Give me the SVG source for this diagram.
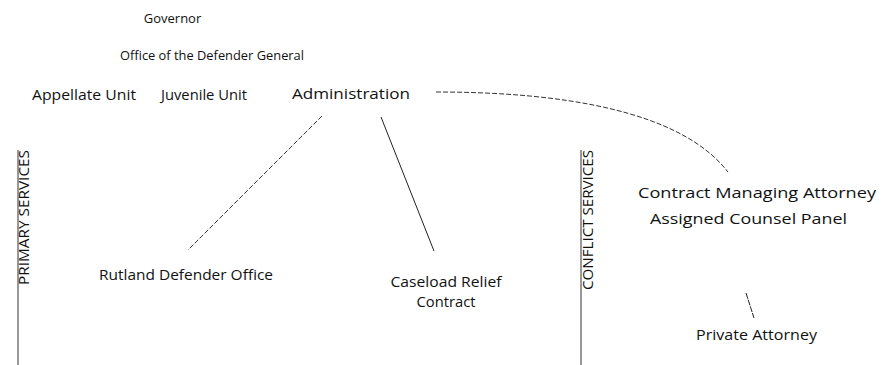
<svg xmlns="http://www.w3.org/2000/svg" width="893" height="365" viewBox="0 0 893 365">
<style>
text{font-family:"Open Sans","Liberation Sans",sans-serif;fill:#111;text-anchor:middle}
.s{font-size:13px}
.m{font-size:15px}
.v{font-size:14px;text-anchor:end}
.ln{stroke:#222;stroke-width:1;fill:none}
.dl{stroke:#333;stroke-width:1;fill:none;stroke-dasharray:5 2}
.pl{stroke:#222;stroke-width:1;fill:none;stroke-dasharray:6 1}
.sep{stroke:#333;stroke-width:1}
</style>
<rect width="893" height="365" fill="#fff"/>
<g id="connectors">
<path class="dl" d="M322,116 L188,250"/>
<path class="ln" d="M381,117 L434,251"/>
<path class="dl" d="M436,92 C560,92 680,110 728,172"/>
<path class="pl" d="M746,293 L754,318"/>
</g>
<g id="sep-primary"><line class="sep" x1="18" y1="150" x2="18" y2="365"/><text class="v" transform="translate(29,150) rotate(-90)" textLength="135" lengthAdjust="spacingAndGlyphs">PRIMARY SERVICES</text></g>
<g id="sep-conflict"><line class="sep" x1="581" y1="150" x2="581" y2="365"/><text class="v" transform="translate(593,150) rotate(-90)" textLength="140" lengthAdjust="spacingAndGlyphs">CONFLICT SERVICES</text></g>
<g id="governor"><text class="s" x="172.5" y="23">Governor</text></g>
<g id="odg"><text class="s" x="212" y="60" textLength="184" lengthAdjust="spacingAndGlyphs">Office of the Defender General</text></g>
<g id="appellate"><text class="m" x="84" y="100" textLength="104" lengthAdjust="spacingAndGlyphs">Appellate Unit</text></g>
<g id="juvenile"><text class="m" x="204" y="100" textLength="86" lengthAdjust="spacingAndGlyphs">Juvenile Unit</text></g>
<g id="admin"><text class="m" x="351" y="99" textLength="118" lengthAdjust="spacingAndGlyphs">Administration</text></g>
<g id="rutland"><text class="m" x="186" y="280" textLength="174" lengthAdjust="spacingAndGlyphs">Rutland Defender Office</text></g>
<g id="caseload"><text class="m" x="446" y="287" textLength="111" lengthAdjust="spacingAndGlyphs">Caseload Relief</text><text class="m" x="446" y="307" textLength="59" lengthAdjust="spacingAndGlyphs">Contract</text></g>
<g id="cma"><text class="m" x="757" y="198" textLength="238" lengthAdjust="spacingAndGlyphs">Contract Managing Attorney</text></g>
<g id="acp"><text class="m" x="748.5" y="224" textLength="197" lengthAdjust="spacingAndGlyphs">Assigned Counsel Panel</text></g>
<g id="private"><text class="m" x="756.5" y="340" textLength="121" lengthAdjust="spacingAndGlyphs">Private Attorney</text></g>
</svg>
